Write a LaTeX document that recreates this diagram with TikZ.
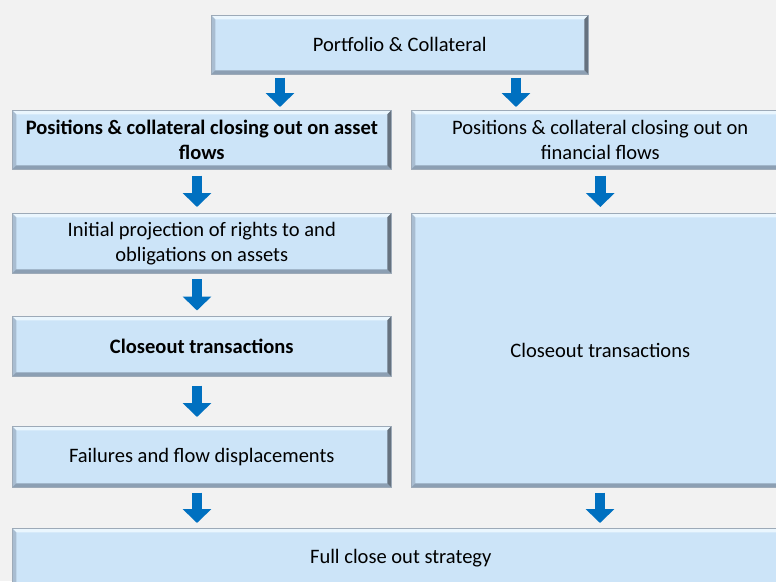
\documentclass[tikz,border=0pt]{standalone}
\usepackage{fontspec}
\setmainfont{Carlito}
\usetikzlibrary{arrows.meta, positioning, calc}
\definecolor{pagebg}{HTML}{F2F2F2}
\definecolor{boxfill}{HTML}{CCE4F8}
\definecolor{boxline}{HTML}{9DAAB8}
\definecolor{bevtop}{HTML}{EAF6FE}
\definecolor{bevleft}{HTML}{A9BDD1}
\definecolor{bevbot}{HTML}{8C9FB3}
\definecolor{bevright}{HTML}{66727F}
\definecolor{arrowblue}{HTML}{0070C0}
\newcommand{\boxfont}{\fontsize{14.6pt}{17.8pt}\selectfont}

\tikzset{
  bevel/.style={path picture={
    \def\bv{0.1cm}
    \fill[bevtop] (path picture bounding box.north west) -- (path picture bounding box.north east)
      -- ++(-\bv,-\bv) -- ([shift={(\bv,-\bv)}]path picture bounding box.north west) -- cycle;
    \fill[bevleft] (path picture bounding box.north west) -- ([shift={(\bv,-\bv)}]path picture bounding box.north west)
      -- ([shift={(\bv,\bv)}]path picture bounding box.south west) -- (path picture bounding box.south west) -- cycle;
    \fill[bevbot] (path picture bounding box.south west) -- ([shift={(\bv,\bv)}]path picture bounding box.south west)
      -- ([shift={(-\bv,\bv)}]path picture bounding box.south east) -- (path picture bounding box.south east) -- cycle;
    \fill[bevright] (path picture bounding box.north east) -- ([shift={(-\bv,-\bv)}]path picture bounding box.north east)
      -- ([shift={(-\bv,\bv)}]path picture bounding box.south east) -- (path picture bounding box.south east) -- cycle;
  }},
  stage/.style={rectangle, draw=boxline, line width=0.4pt, fill=boxfill, bevel,
    align=center, inner sep=0pt, anchor=north west, font=\boxfont},
  boldstage/.style={stage, font=\boxfont\bfseries},
  flow/.style={draw=arrowblue, line width=0.2625cm,
    -{Triangle[width=0.7cm,length=0.35cm]}, shorten <=#1, shorten >=#1},
}

\begin{document}
\begin{tikzpicture}[x=0.025cm, y=-0.025cm]
    \def\u{0.025cm}
    \useasboundingbox (0,0) rectangle (776,581);
    \fill[pagebg] (0,0) rectangle (776,581);
    \clip (0,0) rectangle (776,581);
    % top
    \node[stage, minimum width=377*\u, minimum height=59*\u] (top) at (211,15) {Portfolio \& Collateral};
    % asset flows column
    \node[boldstage, minimum width=379*\u, minimum height=59*\u] (a1) at (12,110)
        {Positions \& collateral closing out on asset\\flows};
    \node[stage, minimum width=379*\u, minimum height=60*\u] (a2) at (12,213)
        {Initial projection of rights to and\\obligations on assets};
    \node[boldstage, minimum width=379*\u, minimum height=60*\u] (a3) at (12,316) {Closeout transactions};
    \node[stage, minimum width=379*\u, minimum height=61*\u] (a4) at (12,426) {Failures and flow displacements};
    % financial flows column
    \node[stage, minimum width=378*\u, minimum height=59*\u] (f1) at (411,110)
        {Positions \& collateral closing out on\\financial flows};
    \node[stage, minimum width=378*\u, minimum height=274*\u] (f2) at (411,213) {Closeout transactions};
    % bottom
    \node[stage, minimum width=777*\u, minimum height=60*\u] (full) at (12,528) {Full close out strategy};
    % arrows
    \draw[flow=3*\u] (top.south -| 280,0) -- (a1.north -| 280,0);
    \draw[flow=3*\u] (top.south -| 516,0) -- (f1.north -| 516,0);
    \draw[flow=6*\u] (a1.south -| 197,0) -- (a2.north -| 197,0);
    \draw[flow=5.5*\u] (a2.south -| 197,0) -- (a3.north -| 197,0);
    \draw[flow=9*\u] (a3.south -| 197,0) -- (a4.north -| 197,0);
    \draw[flow=5*\u] (a4.south -| 197,0) -- (full.north -| 197,0);
    \draw[flow=6*\u] (f1.south) -- (f2.north);
    \draw[flow=5*\u] (f2.south -| 600,0) -- (full.north -| 600,0);
\end{tikzpicture}
\end{document}
